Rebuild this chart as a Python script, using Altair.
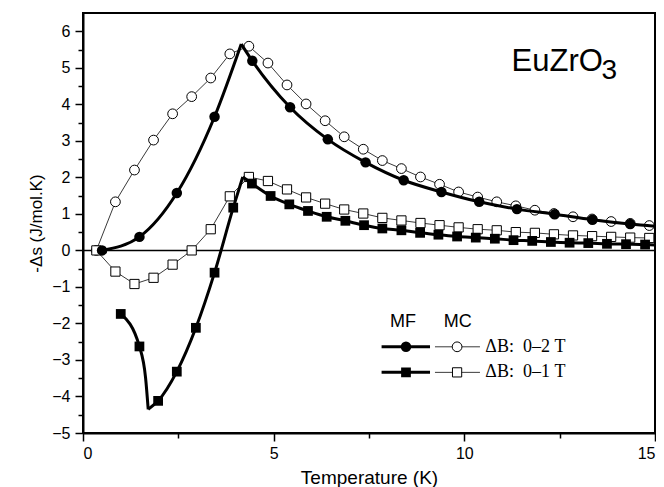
import altair as alt
import pandas as pd

# ---------------- data ----------------
# MC (open symbols), thin lines, measured every 0.5 K
mc_T = [0.35, 0.85, 1.35, 1.85, 2.35, 2.85, 3.35, 3.85, 4.35, 4.85,
        5.35, 5.85, 6.35, 6.85, 7.35, 7.85, 8.35, 8.85, 9.35, 9.85,
        10.35, 10.85, 11.35, 11.85, 12.35, 12.85, 13.35, 13.85, 14.35, 14.85]
mc2_S = [0.00, 1.33, 2.20, 3.02, 3.74, 4.21, 4.72, 5.38, 5.59, 5.13,
         4.53, 4.01, 3.55, 3.11, 2.77, 2.46, 2.24, 2.01, 1.81, 1.60,
         1.46, 1.33, 1.22, 1.10, 1.01, 0.92, 0.86, 0.79, 0.74, 0.68]
mc1_S = [0.00, -0.58, -0.92, -0.75, -0.39, 0.00, 0.58, 1.48, 2.01, 1.90,
         1.67, 1.45, 1.28, 1.12, 1.01, 0.89, 0.82, 0.75, 0.69, 0.63,
         0.58, 0.55, 0.50, 0.48, 0.44, 0.41, 0.39, 0.37, 0.35, 0.34]

# MF 0-2 T (filled circles) markers
mf2_T = [0.50, 1.48, 2.46, 3.45, 4.44, 5.43, 6.42, 7.41, 8.41, 9.40,
         10.39, 11.38, 12.37, 13.36, 14.35]
mf2_S = [0.00, 0.37, 1.57, 3.66, 5.19, 3.92, 3.04, 2.41, 1.92, 1.60,
         1.33, 1.13, 0.99, 0.84, 0.72]
mf2_peak = (4.15, 5.65)
mf2_end = (15.0, 0.66)

# MF 0-1 T (filled squares) markers
mf1_T = [0.99, 1.48, 1.97, 2.46, 2.96, 3.45, 3.94, 4.43, 4.92, 5.41,
         5.90, 6.39, 6.88, 7.37, 7.85, 8.35, 8.84, 9.32, 9.81, 10.30,
         10.80, 11.29, 11.78, 12.27, 12.76, 13.25, 13.74, 14.24, 14.74]
mf1_S = [-1.74, -2.63, -4.12, -3.32, -2.12, -0.61, 1.17, 1.83, 1.49, 1.26,
         1.08, 0.92, 0.81, 0.69, 0.60, 0.55, 0.48, 0.43, 0.38, 0.35,
         0.32, 0.28, 0.26, 0.23, 0.21, 0.20, 0.18, 0.17, 0.16]
mf1_bend = (1.64, -3.48)
mf1_min = (1.71, -4.35)
mf1_peak = (4.19, 2.01)
mf1_end = (15.0, 0.15)

x_major = [0, 5, 10, 15]
x_minor = [2.5, 7.5, 12.5]
y_major = [-5, -4, -3, -2, -1, 0, 1, 2, 3, 4, 5, 6]
y_minor = [-4.5, -3.5, -2.5, -1.5, -0.5, 0.5, 1.5, 2.5, 3.5, 4.5, 5.5]

NBSP = "\u00a0"
legend_labels = ["ΔB:" + NBSP * 2 + "0–2" + NBSP + "T", "ΔB:" + NBSP * 2 + "0–1" + NBSP + "T"]

# ---------------- tables ----------------
mc2 = pd.DataFrame({"T": mc_T, "S": mc2_S})
mc1 = pd.DataFrame({"T": mc_T, "S": mc1_S})
mf2_pts = pd.DataFrame({"T": mf2_T, "S": mf2_S})
mf1_pts = pd.DataFrame({"T": mf1_T, "S": mf1_S})

# smooth MF curves, split at the cusps
mf2_curve = pd.concat([
    pd.DataFrame({"T": mf2_T[:4] + [mf2_peak[0]], "S": mf2_S[:4] + [mf2_peak[1]], "seg": "a"}),
    pd.DataFrame({"T": [mf2_peak[0]] + mf2_T[4:] + [mf2_end[0]],
                  "S": [mf2_peak[1]] + mf2_S[4:] + [mf2_end[1]], "seg": "b"}),
])
mf1_curve = pd.concat([
    pd.DataFrame({"T": mf1_T[:2] + [mf1_bend[0], mf1_min[0]],
                  "S": mf1_S[:2] + [mf1_bend[1], mf1_min[1]], "seg": "a"}),
    pd.DataFrame({"T": [mf1_min[0]] + mf1_T[2:7] + [mf1_peak[0]],
                  "S": [mf1_min[1]] + mf1_S[2:7] + [mf1_peak[1]], "seg": "b"}),
    pd.DataFrame({"T": [mf1_peak[0]] + mf1_T[7:] + [mf1_end[0]],
                  "S": [mf1_peak[1]] + mf1_S[7:] + [mf1_end[1]], "seg": "c"}),
])

FONT = "Liberation Sans"
SERIF = "Liberation Serif"

xs = alt.Scale(domain=[0, 15], nice=False, zero=False)
ys = alt.Scale(domain=[-5, 6.5], nice=False, zero=False)

x_axis = alt.Axis(values=x_major, format="d", tickSize=8, tickWidth=1.5, tickColor="black",
                  domainColor="black", domainWidth=2, labelFont=FONT, labelFontSize=16,
                  labelColor="black", labelPadding=4, grid=False, title="Temperature (K)",
                  titleFont=FONT, titleFontSize=19, titleFontWeight="normal", titleColor="black",
                  titleY=50, titleBaseline="alphabetic", orient="bottom")
y_axis = alt.Axis(values=y_major, format="d", tickSize=8, tickWidth=1.5, tickColor="black",
                  domainColor="black", domainWidth=2, labelFont=FONT, labelFontSize=16,
                  labelColor="black", labelPadding=5, grid=False, title="-Δs (J/mol.K)",
                  titleFont=FONT, titleFontSize=17, titleFontWeight="normal", titleColor="black",
                  titleX=-47, titleBaseline="middle", orient="left")
x_axis_minor = alt.Axis(values=x_minor, tickSize=5, tickWidth=1.5, tickColor="black",
                        labels=False, domain=False, grid=False, title=None, orient="bottom")
y_axis_minor = alt.Axis(values=y_minor, tickSize=5, tickWidth=1.5, tickColor="black",
                        labels=False, domain=False, grid=False, title=None, orient="left")

# zero line (carries the major y axis)
zero = alt.Chart(pd.DataFrame({"S": [0.0]})).mark_rule(color="black", strokeWidth=1.5).encode(
    y=alt.Y("S:Q", scale=ys, axis=y_axis),
)
x_holder = alt.Chart(pd.DataFrame({"T": [0.0]})).mark_point(opacity=0).encode(
    x=alt.X("T:Q", scale=xs, axis=x_axis),
)
minor = alt.Chart(pd.DataFrame({"T": [0.0], "S": [0.0]})).mark_point(opacity=0).encode(
    x=alt.X("T:Q", scale=xs, axis=x_axis_minor),
    y=alt.Y("S:Q", scale=ys, axis=y_axis_minor),
)

X = alt.X("T:Q", scale=xs, axis=None)
Y = alt.Y("S:Q", scale=ys, axis=None)

mc_line_color = "#3a3a3a"
mc2_line = alt.Chart(mc2).mark_line(color=mc_line_color, strokeWidth=1).encode(x=X, y=Y)
mc2_pts = alt.Chart(mc2).mark_point(shape="circle", size=95, filled=True, fill="white",
                                    stroke="black", strokeWidth=1, opacity=1).encode(x=X, y=Y)
mc1_line = alt.Chart(mc1).mark_line(color=mc_line_color, strokeWidth=1).encode(x=X, y=Y)
mc1_pts = alt.Chart(mc1).mark_point(shape="square", size=85, filled=True, fill="white",
                                    stroke="black", strokeWidth=1, opacity=1).encode(x=X, y=Y)

mf2_line = alt.Chart(mf2_curve).mark_line(color="black", strokeWidth=3, interpolate="monotone").encode(
    x=X, y=Y, detail="seg:N", order="T:Q")
mf2_mk = alt.Chart(mf2_pts).mark_point(shape="circle", size=110, filled=True, color="black",
                                       opacity=1).encode(x=X, y=Y)
mf1_line = alt.Chart(mf1_curve).mark_line(color="black", strokeWidth=3, interpolate="monotone").encode(
    x=X, y=Y, detail="seg:N", order="T:Q")
mf1_mk = alt.Chart(mf1_pts).mark_point(shape="square", size=95, filled=True, color="black",
                                       opacity=1).encode(x=X, y=Y)

# ---------------- in-plot legend ----------------
leg_rows = [-2.64, -3.34]
leg_mf_x = [7.83, 9.10]
leg_mc_x = [9.23, 10.41]
leg_mf_mark = 8.47
leg_mc_mark = 9.81
leg_text_x = 10.55
leg_head_y = -1.95
leg_heads = pd.DataFrame({"T": [8.39, 9.83], "S": [leg_head_y, leg_head_y], "t": ["MF", "MC"]})

leg_lines = pd.DataFrame({
    "x": [leg_mf_x[0]] * 2 + [leg_mc_x[0]] * 2,
    "x2": [leg_mf_x[1]] * 2 + [leg_mc_x[1]] * 2,
    "y": leg_rows * 2,
    "kind": ["MF", "MF", "MC", "MC"],
})
LX = alt.X("x:Q", scale=xs, axis=None)
LY = alt.Y("y:Q", scale=ys, axis=None)
leg_thick = alt.Chart(leg_lines[leg_lines.kind == "MF"]).mark_rule(color="black", strokeWidth=3).encode(
    x=LX, x2="x2:Q", y=LY)
leg_thin = alt.Chart(leg_lines[leg_lines.kind == "MC"]).mark_rule(color=mc_line_color, strokeWidth=1).encode(
    x=LX, x2="x2:Q", y=LY)
leg_fc = alt.Chart(pd.DataFrame({"T": [leg_mf_mark], "S": [leg_rows[0]]})).mark_point(
    shape="circle", size=110, filled=True, color="black", opacity=1).encode(x=X, y=Y)
leg_fs = alt.Chart(pd.DataFrame({"T": [leg_mf_mark], "S": [leg_rows[1]]})).mark_point(
    shape="square", size=95, filled=True, color="black", opacity=1).encode(x=X, y=Y)
leg_oc = alt.Chart(pd.DataFrame({"T": [leg_mc_mark], "S": [leg_rows[0]]})).mark_point(
    shape="circle", size=95, filled=True, fill="white", stroke="black", strokeWidth=1, opacity=1).encode(x=X, y=Y)
leg_os = alt.Chart(pd.DataFrame({"T": [leg_mc_mark], "S": [leg_rows[1]]})).mark_point(
    shape="square", size=85, filled=True, fill="white", stroke="black", strokeWidth=1, opacity=1).encode(x=X, y=Y)
leg_txt = alt.Chart(pd.DataFrame({"T": [leg_text_x] * 2, "S": leg_rows, "t": legend_labels})).mark_text(
    font=SERIF, fontSize=18, align="left", baseline="middle", color="black").encode(x=X, y=Y, text="t:N")
leg_head_txt = alt.Chart(leg_heads).mark_text(
    font=FONT, fontSize=18, align="center", baseline="middle", color="black").encode(x=X, y=Y, text="t:N")

# compound label
comp = alt.Chart(pd.DataFrame({"T": [11.24], "S": [4.90], "t": ["EuZrO"]})).mark_text(
    font=FONT, fontSize=31, align="left", baseline="alphabetic", color="black").encode(x=X, y=Y, text="t:N")
comp_sub = alt.Chart(pd.DataFrame({"T": [13.60], "S": [4.70], "t": ["3"]})).mark_text(
    font=FONT, fontSize=28, align="left", baseline="alphabetic", color="black").encode(x=X, y=Y, text="t:N")

chart = alt.layer(
    zero, x_holder, minor,
    mc2_line, mc2_pts, mc1_line, mc1_pts,
    mf2_line, mf1_line, mf2_mk, mf1_mk,
    leg_thick, leg_thin, leg_fc, leg_fs, leg_oc, leg_os, leg_txt, leg_head_txt,
    comp, comp_sub,
).resolve_axis(x="independent", y="independent").properties(
    width=572, height=420,
    autosize=alt.AutoSizeParams(type="none"),
    padding={"left": 75, "top": 5, "right": 1, "bottom": 54},
    background="white",
).configure_view(stroke="black", strokeWidth=2)

chart.save("out.html", embed_options={"renderer": "svg", "actions": False})
